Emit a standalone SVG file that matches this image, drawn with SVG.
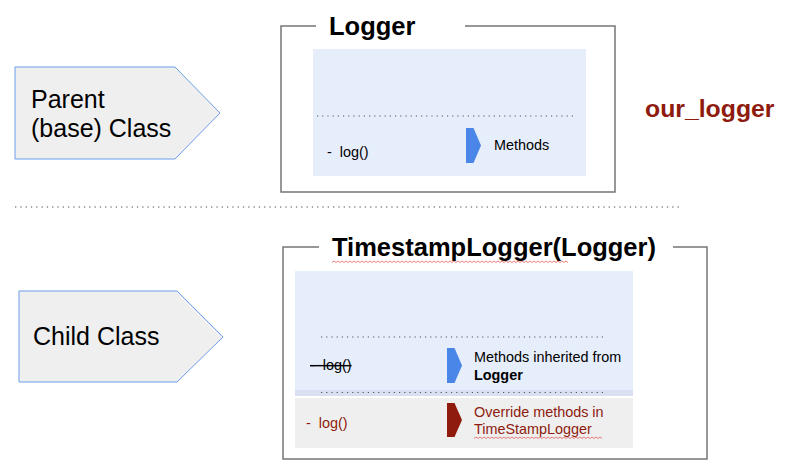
<svg xmlns="http://www.w3.org/2000/svg" width="792" height="474" viewBox="0 0 792 474">
  <style>
    text { font-family: "Liberation Sans", Arial, sans-serif; }
    .title { font-size: 25.5px; font-weight: bold; fill: #000; }
    .side { font-size: 25px; fill: #000; }
    .small { font-size: 14.4px; fill: #000; }
    .red { fill: #8e1b0e; }
    .frame { fill: none; stroke: #767676; stroke-width: 1.5; }
    .panel { fill: #e6edfb; }
    .grey { fill: #efefef; }
    .chev { fill: #efefef; stroke: #6d9eeb; stroke-width: 1; }
    .dots { stroke: #555; stroke-width: 1.2; stroke-dasharray: 1.2 4; fill: none; }
    .sep { stroke: #888; stroke-width: 1.3; stroke-dasharray: 1.3 4; fill: none; }
    .squig { fill: none; stroke: #e06060; stroke-width: 0.8; }
  </style>

  <g id="parent-label">
    <polygon class="chev" points="15,67 175,67 220,113 175,159 15,159"/>
    <text class="side" x="31" y="108">Parent</text>
    <text class="side" x="31" y="137">(base) Class</text>
  </g>

  <g id="child-label">
    <polygon class="chev" points="19,291 177,291 223,337 177,382 19,382"/>
    <text class="side" x="33" y="345">Child Class</text>
  </g>

  <g id="logger">
    <path class="frame" d="M316,26 H281 V192 H615 V26 H465"/>
    <text class="title" x="329" y="35">Logger</text>
    <rect class="panel" x="313" y="49" width="273" height="127"/>
    <line class="dots" x1="317" y1="116" x2="577" y2="116"/>
    <text class="small" x="327" y="157" xml:space="preserve">-  log()</text>
    <polygon points="466,128 473.5,128 481,145.5 473.5,163 466,163" fill="#4a86e8"/>
    <text class="small" x="494" y="150">Methods</text>
  </g>

  <g id="our-logger">
    <text x="645" y="117" font-size="24.8" font-weight="bold" class="red">our_logger</text>
  </g>

  <g id="separator">
    <line class="sep" x1="15" y1="207" x2="680" y2="207"/>
  </g>

  <g id="timestamp-logger">
    <path class="frame" d="M319,247 H283 V459 H707 V247 H673"/>
    <text class="title" x="332" y="256">TimestampLogger(Logger)</text>
    <path class="squig" d="M332,262.5 l2,-1.5 l2,1.5 l2,-1.5 l2,1.5 l2,-1.5 l2,1.5 l2,-1.5 l2,1.5 l2,-1.5 l2,1.5 l2,-1.5 l2,1.5 l2,-1.5 l2,1.5 l2,-1.5 l2,1.5 l2,-1.5 l2,1.5 l2,-1.5 l2,1.5 l2,-1.5 l2,1.5 l2,-1.5 l2,1.5 l2,-1.5 l2,1.5 l2,-1.5 l2,1.5 l2,-1.5 l2,1.5 l2,-1.5 l2,1.5 l2,-1.5 l2,1.5 l2,-1.5 l2,1.5 l2,-1.5 l2,1.5 l2,-1.5 l2,1.5 l2,-1.5 l2,1.5 l2,-1.5 l2,1.5 l2,-1.5 l2,1.5 l2,-1.5 l2,1.5 l2,-1.5 l2,1.5 l2,-1.5 l2,1.5 l2,-1.5 l2,1.5 l2,-1.5 l2,1.5 l2,-1.5 l2,1.5 l2,-1.5 l2,1.5 l2,-1.5 l2,1.5 l2,-1.5 l2,1.5 l2,-1.5 l2,1.5 l2,-1.5 l2,1.5 l2,-1.5 l2,1.5 l2,-1.5 l2,1.5 l2,-1.5 l2,1.5 l2,-1.5 l2,1.5 l2,-1.5 l2,1.5 l2,-1.5 l2,1.5 l2,-1.5 l2,1.5 l2,-1.5 l2,1.5 l2,-1.5 l2,1.5 l2,-1.5 l2,1.5 l2,-1.5 l2,1.5 l2,-1.5 l2,1.5 l2,-1.5 l2,1.5 l2,-1.5 l2,1.5 l2,-1.5 l2,1.5 l2,-1.5 l2,1.5 l2,-1.5 l2,1.5 l2,-1.5 l2,1.5 l2,-1.5 l2,1.5 l2,-1.5 l2,1.5 l2,-1.5 l2,1.5 l2,-1.5 l2,1.5 l2,-1.5 l2,1.5 l2,-1.5 l2,1.5 l2,-1.5 l2,1.5"/>
    <rect class="panel" x="295" y="271" width="338" height="125"/>
    <rect x="295" y="390" width="338" height="6" fill="#d8e0f1"/>
    <rect class="grey" x="295" y="398" width="338" height="50"/>
    <line class="dots" x1="321" y1="337" x2="607" y2="337"/>
    <line class="dots" x1="321" y1="392.5" x2="607" y2="392.5"/>
    <text class="small" x="310" y="370" xml:space="preserve" text-decoration="line-through">-  log()</text>
    <polygon points="447,348 454.5,348 462,365.5 454.5,383 447,383" fill="#4a86e8"/>
    <text class="small" x="474" y="362">Methods inherited from</text>
    <text class="small" x="474" y="380" font-weight="bold">Logger</text>
    <text class="small red" x="306" y="428" xml:space="preserve">-  log()</text>
    <polygon points="447,403 454.5,403 462,420 454.5,437 447,437" fill="#8e1b0e"/>
    <text class="small red" x="474" y="417">Override methods in</text>
    <text class="small red" x="474" y="434">TimeStampLogger</text>
    <path class="squig" d="M474,438.5 l2,-1.5 l2,1.5 l2,-1.5 l2,1.5 l2,-1.5 l2,1.5 l2,-1.5 l2,1.5 l2,-1.5 l2,1.5 l2,-1.5 l2,1.5 l2,-1.5 l2,1.5 l2,-1.5 l2,1.5 l2,-1.5 l2,1.5 l2,-1.5 l2,1.5 l2,-1.5 l2,1.5 l2,-1.5 l2,1.5 l2,-1.5 l2,1.5 l2,-1.5 l2,1.5 l2,-1.5 l2,1.5 l2,-1.5 l2,1.5 l2,-1.5 l2,1.5 l2,-1.5 l2,1.5 l2,-1.5 l2,1.5 l2,-1.5 l2,1.5 l2,-1.5 l2,1.5 l2,-1.5 l2,1.5 l2,-1.5 l2,1.5 l2,-1.5 l2,1.5 l2,-1.5 l2,1.5 l2,-1.5 l2,1.5 l2,-1.5 l2,1.5 l2,-1.5 l2,1.5 l2,-1.5 l2,1.5 l2,-1.5 l2,1.5 l2,-1.5 l2,1.5 l2,-1.5 l2,1.5"/>
  </g>
</svg>
